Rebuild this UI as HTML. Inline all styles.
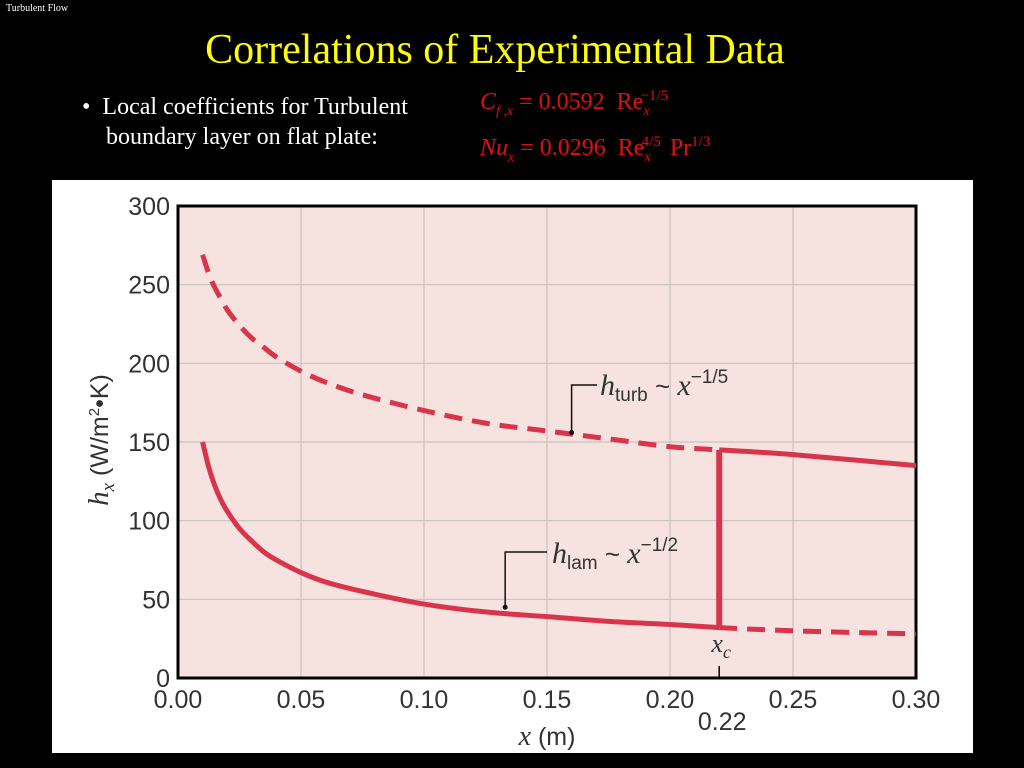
<!DOCTYPE html>
<html><head><meta charset="utf-8"><style>
body{margin:0;background:#000;width:1024px;height:768px;overflow:hidden;position:relative;font-family:"Liberation Serif",serif}
.abs{position:absolute}
</style></head><body>
<div class="abs" style="left:6px;top:3px;color:#fff;font-size:10px">Turbulent Flow</div>
<div class="abs" style="left:0;width:990px;top:26px;text-align:center;color:#ffff00;font-size:42px">Correlations of Experimental Data</div>
<div class="abs" style="left:82px;top:92px;color:#fff;font-size:24px;line-height:30px">•&nbsp; Local coefficients for Turbulent<br>&nbsp;&nbsp;&nbsp; boundary layer on flat plate:</div>
<div class="abs" style="left:480px;top:88px;color:#e01010;font-size:24px"><i>C</i><sub style="font-size:14px"><i>f</i> ,<i>x</i></sub> = 0.0592 &nbsp;Re<sub style="font-size:14px"><i>x</i></sub><sup style="font-size:15px;position:relative;left:-9px">−1/5</sup></div>
<div class="abs" style="left:480px;top:134px;color:#e01010;font-size:24px"><i>Nu</i><sub style="font-size:14px"><i>x</i></sub> = 0.0296 &nbsp;Re<sub style="font-size:14px"><i>x</i></sub><sup style="font-size:15px;position:relative;left:-9px">4/5</sup>Pr<sup style="font-size:15px">1/3</sup></div>
<svg class="abs" style="left:52px;top:180px" width="921" height="573" id="chart"></svg>
<script>
const xTicks=[0,0.05,0.10,0.15,0.20,0.25,0.30];
const xTickLabels=["0.00","0.05","0.10","0.15","0.20","0.25","0.30"];
const yTicks=[0,50,100,150,200,250,300];
const turbX=[0.01,0.0125,0.015,0.0175,0.02,0.025,0.03,0.035,0.04,0.05,0.06,0.075,0.1,0.125,0.15,0.175,0.2,0.22];
const turbY=[269,257,248,241,234,224,216,210,204,195,188,180,170,162,157,152,147,145];
const turbSolidX=[0.22,0.25,0.3];
const turbSolidY=[145,142,135];
const lamX=[0.01,0.0125,0.015,0.0175,0.02,0.025,0.03,0.035,0.04,0.05,0.06,0.075,0.1,0.125,0.15,0.175,0.2,0.22];
const lamY=[150,134,122,113,106,95,87,80,75,67,61,55,47,42,39,36,34,32];
const lamDashX=[0.22,0.25,0.3];
const lamDashY=[32,30,28];
const xc=0.22;
const svg=document.getElementById('chart');
const NS='http://www.w3.org/2000/svg';
const L=126,R=864,T=26,B=498;
const sx=v=>L+(v/0.30)*(R-L);
const sy=v=>B-(v/300)*(B-T);
function el(t,a,p){const e=document.createElementNS(NS,t);for(const k in a)e.setAttribute(k,a[k]);(p||svg).appendChild(e);return e;}
const bg=el('rect',{x:0,y:0,width:921,height:573,fill:'#fff'});


const pa=el('rect',{x:L,y:T,width:R-L,height:B-T,fill:'#f6e2df'});


xTicks.forEach((v,i)=>{
 const g=el('line',{x1:sx(v),x2:sx(v),y1:T,y2:B,stroke:'#c9c1bf','stroke-width':1.2});
 
 
 const t=el('text',{x:sx(v),y:B+30,'text-anchor':'middle','font-family':'Liberation Sans, sans-serif','font-size':25,fill:'#333'});
 t.textContent=xTickLabels[i];
 
 
});
yTicks.forEach(v=>{
 const g=el('line',{x1:L,x2:R,y1:sy(v),y2:sy(v),stroke:'#c9c1bf','stroke-width':1.2});
 
 
 const t=el('text',{x:L-8,y:sy(v)+9,'text-anchor':'end','font-family':'Liberation Sans, sans-serif','font-size':25,fill:'#333'});
 t.textContent=String(v);
 
 
});
const fr=el('rect',{x:L,y:T,width:R-L,height:B-T,fill:'none',stroke:'#000','stroke-width':3});


function path(xs,ys){let d='';for(let i=0;i<xs.length;i++){const x=sx(xs[i]),y=sy(ys[i]);if(i==0)d='M'+x+','+y;else{const x0=sx(xs[i-1]),y0=sy(ys[i-1]);const xm1=i>1?sx(xs[i-2]):x0,ym1=i>1?sy(ys[i-2]):y0;const x2=i<xs.length-1?sx(xs[i+1]):x,y2=i<xs.length-1?sy(ys[i+1]):y;d+=' C'+(x0+(x-xm1)/6)+','+(y0+(y-ym1)/6)+' '+(x-(x2-x0)/6)+','+(y-(y2-y0)/6)+' '+x+','+y;}}return d;}
const C='#d8344c';
const p1=el('path',{d:path(turbX,turbY),fill:'none',stroke:C,'stroke-width':5,'stroke-dasharray':'18,10'});


const p2=el('path',{d:path(turbSolidX,turbSolidY),fill:'none',stroke:C,'stroke-width':5});


const p3=el('path',{d:path(lamX,lamY),fill:'none',stroke:C,'stroke-width':5});


const p4=el('path',{d:path(lamDashX,lamDashY),fill:'none',stroke:C,'stroke-width':5,'stroke-dasharray':'18,10'});


const tr=el('line',{x1:sx(xc),x2:sx(xc),y1:sy(lamY[lamY.length-1]),y2:sy(turbY[turbY.length-1]),stroke:C,'stroke-width':6});


const tk=el('line',{x1:sx(xc),x2:sx(xc),y1:B-12,y2:B,stroke:'#000','stroke-width':1.5});


const t22=el('text',{x:sx(xc)+3,y:B+52,'text-anchor':'middle','font-family':'Liberation Sans, sans-serif','font-size':25,fill:'#333'});
t22.textContent='0.22';


const xcl=el('text',{x:sx(xc)+2,y:B-26,'text-anchor':'middle','font-family':'Liberation Serif, serif','font-style':'italic','font-size':26,fill:'#333'});
xcl.innerHTML='x<tspan font-size="18" dy="6">c</tspan>';


function callout(px,py,lx,ly,name){const g=el('polyline',{points:`${px},${py} ${px},${ly} ${lx},${ly}`,fill:'none',stroke:'#111','stroke-width':1.5});el('circle',{cx:px,cy:py,r:2.5,fill:'#111'});}
callout(sx(0.16),sy(156),545,205,'turb-callout');
callout(sx(0.133),sy(45),495,372,'lam-callout');
const at=el('text',{x:548,y:215,'font-family':'Liberation Sans, sans-serif','font-size':26,fill:'#333'});
at.innerHTML='<tspan font-family="Liberation Serif, serif" font-style="italic" font-size="30">h</tspan><tspan font-size="19" dy="6">turb</tspan><tspan dy="-6"> ~ </tspan><tspan font-family="Liberation Serif, serif" font-style="italic" font-size="30">x</tspan><tspan font-size="19" dy="-12">−1/5</tspan>';


const al=el('text',{x:500,y:383,'font-family':'Liberation Sans, sans-serif','font-size':26,fill:'#333'});
al.innerHTML='<tspan font-family="Liberation Serif, serif" font-style="italic" font-size="30">h</tspan><tspan font-size="19" dy="6">lam</tspan><tspan dy="-6"> ~ </tspan><tspan font-family="Liberation Serif, serif" font-style="italic" font-size="30">x</tspan><tspan font-size="19" dy="-12">−1/2</tspan>';


const xt=el('text',{x:(L+R)/2,y:565,'text-anchor':'middle','font-family':'Liberation Sans, sans-serif','font-size':25,fill:'#333'});
xt.innerHTML='<tspan font-family="Liberation Serif, serif" font-style="italic" font-size="28">x</tspan> (m)';


const yt=el('text',{x:0,y:0,'text-anchor':'middle','font-family':'Liberation Sans, sans-serif','font-size':25,fill:'#333',transform:`translate(56,${(T+B)/2-2}) rotate(-90)`});
yt.innerHTML='<tspan font-family="Liberation Serif, serif" font-style="italic" font-size="29">h</tspan><tspan font-family="Liberation Serif, serif" font-style="italic" font-size="19" dy="6">x</tspan><tspan dy="-6"> (W/m</tspan><tspan font-size="15" dy="-9">2</tspan><tspan dy="9">•K)</tspan>';


</script>
</body></html>
